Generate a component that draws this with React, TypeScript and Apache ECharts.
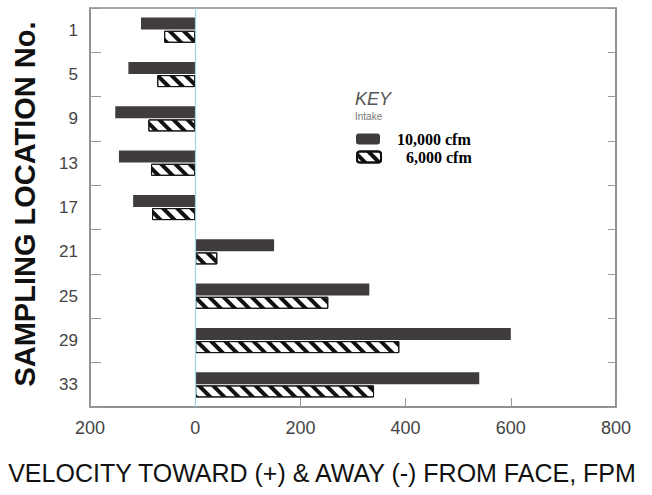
import React, { useEffect, useRef } from "react";
import * as echarts from "echarts";

const locations = ["1", "5", "9", "13", "17", "21", "25", "29", "33"];
const intake10000 = [-103, -127, -152, -145, -118, 150, 331, 600, 540];
const intake6000 = [-59, -72, -89, -84, -82, 42, 253, 388, 340];
const seriesNames = ["10,000 cfm", "6,000 cfm"];
const xMin = -200;
const xMax = 800;
const xStep = 200;

const SANS = "'Liberation Sans', Arial, sans-serif";
const SERIF = "'Liberation Serif', 'Times New Roman', serif";

export default function App() {
  const ref = useRef<HTMLDivElement>(null);
  useEffect(() => {
    if (!ref.current) return;
    const chart = echarts.init(ref.current, undefined, { renderer: "svg" });
    const hatch = {
      symbol: "rect",
      symbolSize: 1,
      dashArrayX: [1, 0],
      dashArrayY: [4, 6],
      rotation: Math.PI / 4,
      color: "#111",
      backgroundColor: "#fff",
    };
    chart.setOption({
      animation: false,
      backgroundColor: "#fff",
      grid: {
        left: 90,
        right: 36,
        top: 8,
        bottom: 88,
        show: true,
        borderColor: "#8a8a8a",
        borderWidth: 1.5,
        containLabel: false,
      },
      xAxis: {
        type: "value",
        min: xMin,
        max: xMax,
        interval: xStep,
        axisLine: { show: true, onZero: false, lineStyle: { color: "#8a8a8a", width: 1.5 } },
        axisTick: { show: true, inside: true, length: 9, lineStyle: { color: "#999" } },
        splitLine: { show: false },
        axisLabel: {
          color: "#444",
          fontSize: 18,
          fontFamily: SANS,
          margin: 12,
          formatter: (v: number) => String(Math.abs(v)),
        },
      },
      yAxis: [
        {
          type: "category",
          data: locations,
          inverse: true,
          axisLine: { show: true, onZero: false, lineStyle: { color: "#8a8a8a", width: 1.5 } },
          axisTick: { show: true, inside: true, length: 11, lineStyle: { color: "#999" } },
          axisLabel: { color: "#444", fontSize: 17, fontFamily: SANS, margin: 12 },
        },
        {
          type: "category",
          data: locations,
          inverse: true,
          position: "right",
          axisLine: { show: true, onZero: false, lineStyle: { color: "#8a8a8a", width: 1.5 } },
          axisTick: { show: true, inside: true, length: 8, lineStyle: { color: "#999" } },
          axisLabel: { show: false },
        },
      ],
      legend: [
        {
          data: [seriesNames[0]],
          left: 356,
          top: 131,
          padding: 0,
          itemWidth: 24,
          itemHeight: 11,
          textStyle: {
            fontFamily: SERIF,
            fontWeight: "bold",
            fontSize: 16,
            color: "#000",
            padding: [0, 0, 0, 12],
          },
        },
        {
          data: [seriesNames[1]],
          left: 356,
          top: 149,
          padding: 0,
          itemWidth: 24,
          itemHeight: 11,
          textStyle: {
            fontFamily: SERIF,
            fontWeight: "bold",
            fontSize: 16,
            color: "#000",
            padding: [0, 0, 0, 20],
          },
        },
      ],
      graphic: [
        {
          type: "text",
          left: 355,
          top: 90,
          style: {
            text: "KEY",
            font: `italic 18px ${SANS}`,
            fill: "#555",
          },
        },
        {
          type: "text",
          left: 355,
          top: 111,
          style: {
            text: "Intake",
            font: `10px ${SANS}`,
            fill: "#777",
          },
        },
        {
          type: "text",
          x: 322,
          y: 473,
          style: {
            text: "VELOCITY TOWARD (+) & AWAY (-) FROM FACE, FPM",
            font: `25px ${SANS}`,
            fill: "#111",
            align: "center",
            verticalAlign: "middle",
          },
        },
        {
          type: "text",
          x: 25,
          y: 204,
          rotation: Math.PI / 2,
          style: {
            text: "SAMPLING LOCATION No.",
            font: `bold 29px ${SANS}`,
            fill: "#111",
            align: "center",
            verticalAlign: "middle",
          },
        },
      ],
      series: [
        {
          name: seriesNames[0],
          type: "bar",
          data: intake10000,
          barWidth: 12,
          barGap: "10%",
          itemStyle: { color: "#403c3e" },
          markLine: {
            silent: true,
            symbol: "none",
            label: { show: false },
            lineStyle: { color: "#9fd3e6", type: "solid", width: 1.2 },
            data: [{ xAxis: 0 }],
          },
        },
        {
          name: seriesNames[1],
          type: "bar",
          data: intake6000,
          barWidth: 12,
          barGap: "10%",
          itemStyle: {
            color: "#fff",
            borderColor: "#111",
            borderWidth: 1,
            decal: hatch,
          },
        },
      ],
    });
    return () => chart.dispose();
  }, []);
  return (
    <div
      ref={ref}
      style={{ position: "fixed", left: 0, top: 0, width: 652, height: 495 }}
    />
  );
}
